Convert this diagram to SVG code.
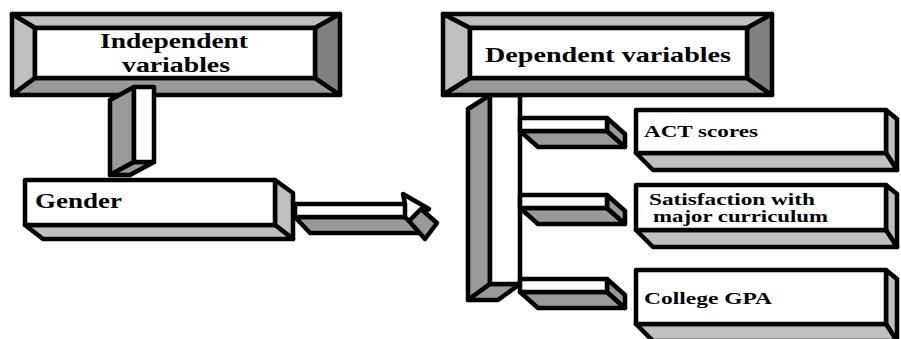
<svg xmlns="http://www.w3.org/2000/svg" width="901" height="339" viewBox="0 0 901 339">
<style>
.s{stroke:#000;stroke-width:4.5;stroke-linejoin:round}
.w{fill:#fff}
.l{fill:#c0c0c0}
.m{fill:#999999}
.d{fill:#808080}
.t{font-family:'Liberation Serif',serif;font-weight:700;fill:#000}
</style>
<rect width="901" height="339" fill="#fff"/>
<g id="independent">
<polygon class="s l" points="12,14 340,14 315,28 35,28"/>
<polygon class="s l" points="12,14 35,28 35,78 12,95"/>
<polygon class="s m" points="35,78 315,78 340,95 12,95"/>
<polygon class="s d" points="315,28 340,14 340,95 315,78"/>
<rect class="s w" x="35" y="28" width="280" height="50"/>
<text class="t" x="100" y="48" font-size="20" textLength="148" lengthAdjust="spacingAndGlyphs">Independent</text>
<text class="t" x="122" y="72" font-size="20" textLength="108" lengthAdjust="spacingAndGlyphs">variables</text>
</g>
<g id="connectors">
<g id="ind-bar">
<polygon class="s m" points="134,87 110,100 110,175 134,162"/>
<polygon class="s m" points="134,162 154,162 130,175 110,175"/>
<rect class="s w" x="134" y="87" width="20" height="75"/>
</g>
<g id="arrow">
<polygon class="s m" points="295,217 407,217 422,233 310,233"/>
<rect class="s w" x="295" y="204" width="112" height="13"/>
<polygon class="s w" points="405,204 403,194 429,209 409,221 405,217"/>
<polygon class="s m" points="409,221 421,209 437,223 425,239"/>
</g>
<g id="dep-bar">
<polygon class="s m" points="490,95 468,109 468,300 490,284"/>
<polygon class="s m" points="490,284 520,284 498,300 468,300"/>
<rect class="s w" x="490" y="95" width="30" height="189"/>
</g>
<g id="branches">
<polygon class="s m" points="520,131 607,131 625,147 538,147"/>
<polygon class="s m" points="607,118 625,134 625,147 607,131"/>
<rect class="s w" x="520" y="118" width="87" height="13"/>
<polygon class="s m" points="520,208 607,208 625,224 538,224"/>
<polygon class="s m" points="607,195 625,211 625,224 607,208"/>
<rect class="s w" x="520" y="195" width="87" height="13"/>
<polygon class="s m" points="520,292 607,292 625,308 538,308"/>
<polygon class="s m" points="607,279 625,295 625,308 607,292"/>
<rect class="s w" x="520" y="279" width="87" height="13"/>
</g>
</g>
<g id="gender">
<polygon class="s l" points="275,180 293,193 293,239 275,225"/>
<polygon class="s l" points="25,225 275,225 293,239 43,239"/>
<rect class="s w" x="25" y="180" width="250" height="45"/>
<text class="t" x="35" y="208" font-size="20" textLength="87" lengthAdjust="spacingAndGlyphs">Gender</text>
</g>
<g id="dependent">
<polygon class="s l" points="443,14 772,14 747,28 470,28"/>
<polygon class="s l" points="443,14 470,28 470,78 443,95"/>
<polygon class="s m" points="470,78 747,78 772,95 443,95"/>
<polygon class="s d" points="747,28 772,14 772,95 747,78"/>
<rect class="s w" x="470" y="28" width="277" height="50"/>
<text class="t" x="485" y="62" font-size="21" textLength="246" lengthAdjust="spacingAndGlyphs">Dependent variables</text>
</g>
<g id="act">
<polygon class="s l" points="886,110 897,119 897,170 886,153"/>
<polygon class="s l" points="636,153 886,153 897,170 653,170"/>
<rect class="s w" x="636" y="110" width="250" height="43"/>
<text class="t" x="644" y="137" font-size="17" textLength="114" lengthAdjust="spacingAndGlyphs">ACT scores</text>
</g>
<g id="satisfaction">
<polygon class="s l" points="886,185 897,194 897,247 886,230"/>
<polygon class="s l" points="636,230 886,230 897,247 653,247"/>
<rect class="s w" x="636" y="185" width="250" height="45"/>
<text class="t" x="649" y="205" font-size="16" textLength="166" lengthAdjust="spacingAndGlyphs">Satisfaction with</text>
<text class="t" x="653" y="222" font-size="16" textLength="175" lengthAdjust="spacingAndGlyphs">major curriculum</text>
</g>
<g id="gpa">
<polygon class="s l" points="886,270 897,279 897,341 886,324"/>
<polygon class="s l" points="636,324 886,324 897,341 653,341"/>
<rect class="s w" x="636" y="270" width="250" height="54"/>
<text class="t" x="644" y="304" font-size="17" textLength="128" lengthAdjust="spacingAndGlyphs">College GPA</text>
</g>
</svg>
